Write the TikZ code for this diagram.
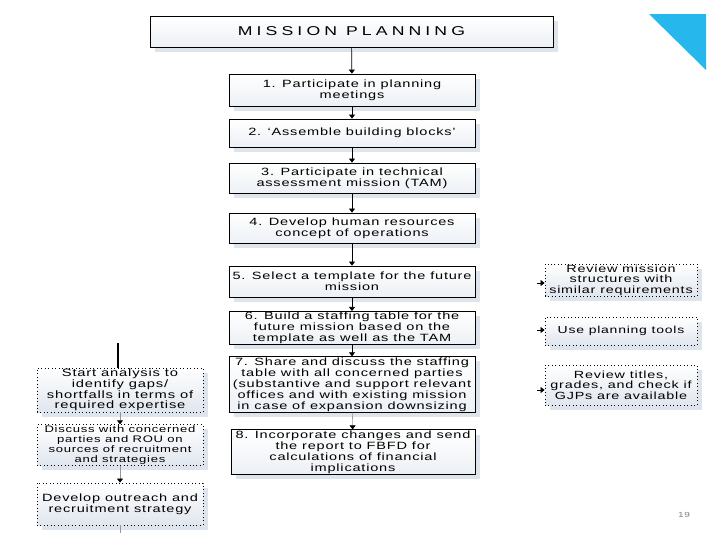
\documentclass[tikz,border=0pt]{standalone}
\usepackage{fontspec}
\setmainfont{Liberation Sans}[FakeStretch=1.38,LetterSpace=7.6]
\usetikzlibrary{arrows.meta,shadows}
\definecolor{boxshade}{RGB}{224,230,238}
\definecolor{shadowgray}{RGB}{222,228,236}
\definecolor{cornerblue}{RGB}{38,184,236}
\definecolor{linkgray}{RGB}{150,150,150}

\tikzset{
  mainbox/.style={draw=black, line width=0.6pt, top color=white, bottom color=boxshade!60,
    minimum width=184.5pt, inner sep=0.5pt, align=center,
    font=\fontsize{7.9}{8.3}\selectfont,
    drop shadow={shadow xshift=3.5pt, shadow yshift=-3.5pt, fill=shadowgray, opacity=1}},
  sidebox/.style={draw=black, dotted, line width=0.6pt, top color=white, bottom color=boxshade,
    inner sep=0.5pt, align=center, font=\fontsize{7.9}{8.1}\selectfont,
    drop shadow={shadow xshift=3.5pt, shadow yshift=-3.5pt, fill=shadowgray, opacity=1}},
  flow/.style={draw=black, line width=0.5pt, -{Triangle[length=3pt,width=4.5pt]}},
  softflow/.style={draw=linkgray, line width=0.4pt, -{Triangle[length=3pt,width=4.5pt,fill=black,color=black]}},
}

\begin{document}
\begin{tikzpicture}[x=0.75pt,y=0.75pt,yscale=-1,xscale=1]
\useasboundingbox (0,0) rectangle (720,540);

%Shape: Corner triangle
\fill [cornerblue] (649,14) -- (706,14) -- (706,70) -- cycle ;

% Title
\node [mainbox, minimum width=302.25pt, minimum height=23.25pt, font=\fontsize{9.6}{9.8}\selectfont\addfontfeatures{LetterSpace=32}] (title) at (351.5,31.5) {MISSION PLANNING};

% Main steps
\node [mainbox, minimum height=24pt] (s1) at (352,90) {1. Participate in planning\\meetings};
\node [mainbox, minimum height=21pt] (s2) at (352,133) {2. ‘Assemble building blocks’};
\node [mainbox, minimum height=22.5pt] (s3) at (352,178) {3. Participate in technical\\assessment mission (TAM)};
\node [mainbox, minimum height=22.5pt] (s4) at (352,228) {4. Develop human resources\\concept of operations};
\node [mainbox, minimum height=23.25pt] (s5) at (352,281.5) {5. Select a template for the future\\mission};
\node [mainbox, minimum height=22.5pt] (s6) at (352,328) {6. Build a staffing table for the\\future mission based on the\\template as well as the TAM};
\node [mainbox, minimum height=41.25pt] (s7) at (352,384.5) {7. Share and discuss the staffing\\table with all concerned parties\\(substantive and support relevant\\offices and with existing mission\\in case of expansion downsizing};
\node [mainbox, minimum width=183pt, minimum height=31.5pt] (s8) at (353,452) {8. Incorporate changes and send\\the report to FBFD for\\calculations of financial\\implications};

% Right column
\node [sidebox, minimum width=114pt, minimum height=22.5pt, font=\fontsize{7.8}{7.9}\selectfont] (r1) at (621,280) {Review mission\\structures with\\similar requirements};
\node [sidebox, minimum width=114pt, minimum height=21pt, font=\fontsize{7.6}{7.9}\selectfont] (r2) at (621,331) {Use planning tools};
\node [sidebox, minimum width=114pt, minimum height=30pt, font=\fontsize{7.8}{7.9}\selectfont] (r3) at (621,385) {Review titles,\\grades, and check if\\GJPs are available};

% Left column
\node [sidebox, minimum width=124.5pt, minimum height=33pt, font=\fontsize{8.0}{8.1}\selectfont] (l1) at (120,390) {Start analysis to\\identify gaps/\\shortfalls in terms of\\required expertise};
\node [sidebox, minimum width=124.5pt, minimum height=30pt, font=\fontsize{7.1}{7.6}\selectfont] (l2) at (120,445) {Discuss with concerned\\parties and ROU on\\sources of recruitment\\and strategies};
\node [sidebox, minimum width=124.5pt, minimum height=31.5pt] (l3) at (120,504) {Develop outreach and\\recruitment strategy};

% Free ends
\coordinate (r1in) at (537,283);
\coordinate (r2in) at (537,330);
\coordinate (r3in) at (537,390);
\coordinate (l1top) at (118,343);
\coordinate (l3out) at (120,533);

% Main flow
\draw [flow] (title) -- (s1);
\draw [flow] (s1) -- (s2);
\draw [flow] (s2) -- (s3);
\draw [flow] (s3) -- (s4);
\draw [flow] (s4) -- (s5);
\draw [flow] (s5) -- (s6);
\draw [flow] (s6) -- (s7);
\draw [softflow] (s7) -- (s8);

% Side links
\draw [flow] (r1in) -- (r1in -| r1.west);
\draw [flow] (r2in) -- (r2in -| r2.west);
\draw [flow] (r3in) -- (r3in -| r3.west);
\draw [line width=1.2pt] (l1top) -- (l1top |- l1.north);
\draw [softflow] (l1) -- (l2);
\draw [softflow] (l2) -- (l3);
\draw [draw=linkgray, line width=0.4pt] (l3) -- (l3out);

% Page number
\node [text=gray, font=\fontsize{5.5}{6}\selectfont] (pageno) at (684,515) {19};

\end{tikzpicture}
\end{document}
